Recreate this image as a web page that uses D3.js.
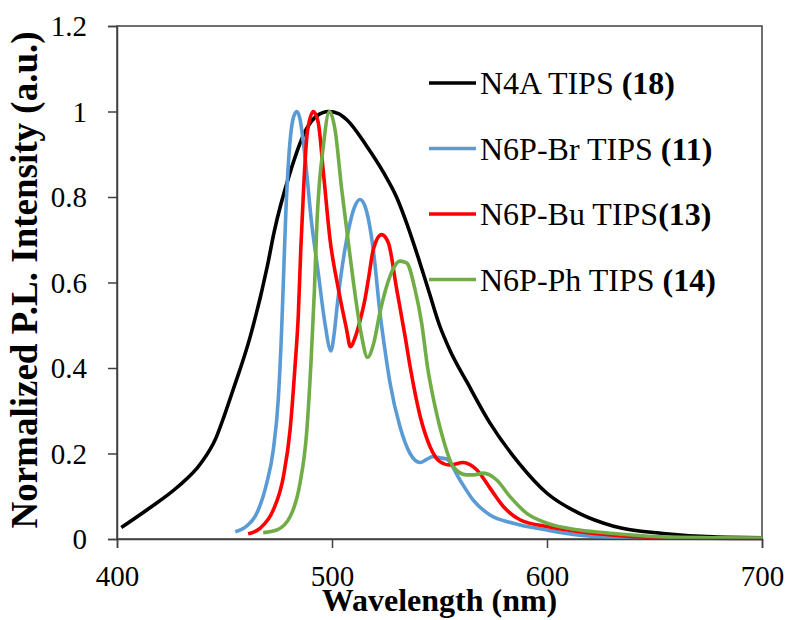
<!DOCTYPE html>
<html>
<head>
<meta charset="utf-8">
<script src="https://cdn.jsdelivr.net/npm/d3@7"></script>
<style>
  body { margin: 0; background: #fff; }
  text { font-family: "Liberation Serif", "Times New Roman", serif; fill: #000; }
</style>
</head>
<body>
<svg width="790" height="620"></svg>
<script>
// PL spectra, [wavelength nm, normalized intensity]
const n4a = [[402,0.027],[415,0.072],[428,0.121],[439,0.177],[446,0.236],[450,0.29],[454,0.349],[462,0.474],
  [470,0.64],[473,0.716],[480.5,0.857],[488,0.958],[493,0.99],[498.5,1.0],[503,0.995],[507,0.98],[516,0.92],
  [524,0.857],[530,0.8],[535,0.735],[540,0.66],[545,0.58],[550,0.5],[555,0.44],[563,0.365],[573.5,0.271],
  [587,0.177],[600,0.107],[615,0.06],[631,0.03],[654,0.013],[677,0.005],[700,0.003]]
const n6pBr = [[455,0.017],[460,0.029],[465,0.06],[469.6,0.13],[472.7,0.209],[475,0.326],[476.5,0.48],[477.5,0.62],
  [478.5,0.76],[480,0.9],[482,0.985],[483.6,1.0],[485,0.985],[487.4,0.896],[490.5,0.74],[493.6,0.623],[496.7,0.505],
  [499.5,0.44],[501,0.48],[502.5,0.55],[506.8,0.7],[510.7,0.779],[513,0.794],[515.3,0.779],[519.2,0.677],[522.3,0.53],
  [524.7,0.44],[527,0.365],[531.6,0.263],[536.3,0.2],[541,0.179],[544,0.186],[547,0.193],[550,0.19],[553.3,0.187],
  [559.5,0.138],[565.7,0.091],[573.5,0.056],[584.3,0.037],[600,0.021],[615,0.009],[631,0.004],[646,0.002],[700,0.001]]
const n6pBu = [[461,0.012],[466.5,0.025],[472.7,0.068],[477.4,0.146],[480.5,0.255],[482.8,0.404],[484.3,0.521],
  [485.5,0.68],[486.8,0.82],[488.5,0.951],[491.3,1.0],[493.6,0.974],[496,0.857],[499.1,0.7],[503,0.584],[506.8,0.49],
  [508.5,0.45],[511,0.475],[513,0.51],[515.3,0.56],[517,0.61],[519.2,0.677],[523.1,0.712],[526.2,0.693],[530.1,0.584],
  [534,0.474],[536.3,0.404],[541,0.287],[545.6,0.216],[550.2,0.181],[554.9,0.173],[561,0.179],[567.3,0.162],
  [573.5,0.119],[579.7,0.076],[587.4,0.045],[600,0.029],[615,0.017],[631,0.009],[646,0.004],[700,0.001]]
const n6pPh = [[468,0.015],[474.3,0.021],[480.5,0.052],[485.1,0.13],[488.2,0.248],[490.3,0.42],[491.8,0.58],[493,0.74],
  [496,0.92],[498.8,1.0],[501.4,0.958],[504.5,0.818],[508.4,0.662],[511.5,0.545],[513.8,0.474],[516.5,0.425],
  [519.5,0.46],[522.3,0.53],[527,0.615],[531.6,0.65],[534.7,0.646],[538.6,0.584],[541.7,0.505],[544.5,0.4],
  [547.5,0.32],[551.8,0.232],[556.4,0.169],[562.6,0.15],[566,0.15],[570.4,0.154],[576.6,0.138],[582.8,0.099],
  [590.6,0.06],[600,0.037],[615,0.021],[631,0.013],[654,0.005],[677,0.003],[700,0.002]]

const xTicks = [400, 500, 600, 700]
const yTicks = [0, 0.2, 0.4, 0.6, 0.8, 1, 1.2]

const series = [
  {name: "N4A TIPS", num: "(18)", gap: true, color: "#000000", data: n4a},
  {name: "N6P-Br TIPS", num: "(11)", gap: true, color: "#5B9BD5", data: n6pBr},
  {name: "N6P-Bu TIPS", num: "(13)", gap: false, color: "#FF0000", data: n6pBu},
  {name: "N6P-Ph TIPS", num: "(14)", gap: true, color: "#70AD47", data: n6pPh}
]

const svg = d3.select("svg")
const pLeft = 117, pRight = 762, pTop = 26, pBottom = 539

const x = d3.scaleLinear().domain([400, 700]).range([pLeft, pRight])
const y = d3.scaleLinear().domain([0, 1.2]).range([pBottom, pTop])

// box around plot area
svg.append("rect")
  .attr("x", pLeft).attr("y", pTop)
  .attr("width", pRight - pLeft).attr("height", pBottom - pTop)
  .attr("fill", "none").attr("stroke", "#404040").attr("stroke-width", 1.5)

const line = d3.line()
  .x(d => x(d[0]))
  .y(d => y(d[1]))
  .curve(d3.curveMonotoneX)

svg.selectAll(".spec")
  .data(series).enter()
  .append("path")
  .attr("class", "spec")
  .attr("d", d => line(d.data))
  .attr("fill", "none")
  .attr("stroke", d => d.color)
  .attr("stroke-width", 3.6)
  .attr("stroke-linejoin", "round")

const xAxis = svg.append("g")
  .attr("transform", `translate(0,${pBottom})`)
  .call(d3.axisBottom(x).tickValues(xTicks).tickSize(9).tickPadding(17).tickFormat(d3.format("d")))
const yAxis = svg.append("g")
  .attr("transform", `translate(${pLeft},0)`)
  .call(d3.axisLeft(y).tickValues(yTicks).tickSize(9).tickPadding(21).tickFormat(d => d))

for (const ax of [xAxis, yAxis]) {
  ax.select(".domain").attr("stroke", "#404040").attr("stroke-width", 1.5)
  ax.selectAll(".tick line").attr("stroke", "#404040").attr("stroke-width", 1.5)
  ax.selectAll(".tick text")
    .style("font-family", '"Liberation Serif", serif')
    .style("font-size", "29px")
    .attr("fill", "#000")
}
yAxis.selectAll(".tick text").attr("dy", "0.34em")

// axis titles
svg.append("text")
  .attr("x", (pLeft + pRight) / 2).attr("y", 611)
  .attr("text-anchor", "middle")
  .style("font-size", "32px").style("font-weight", "bold")
  .text("Wavelength (nm)")

svg.append("text")
  .attr("transform", `translate(37,280) rotate(-90)`)
  .attr("text-anchor", "middle")
  .style("font-size", "37px").style("font-weight", "bold")
  .text("Normalized P.L. Intensity (a.u.)")

// legend
const legend = svg.selectAll(".leg")
  .data(series).enter()
  .append("g")
  .attr("class", "leg")
  .attr("transform", (d, i) => `translate(429,${83 + i * 65.5})`)

legend.append("line")
  .attr("x1", 0).attr("x2", 47)
  .attr("stroke", d => d.color).attr("stroke-width", 3.6)

const lt = legend.append("text")
  .attr("x", 51).attr("y", 11)
  .style("font-size", "32px")
lt.append("tspan").text(d => d.name + (d.gap ? " " : ""))
lt.append("tspan").style("font-weight", "bold").text(d => d.num)
</script>
</body>
</html>
